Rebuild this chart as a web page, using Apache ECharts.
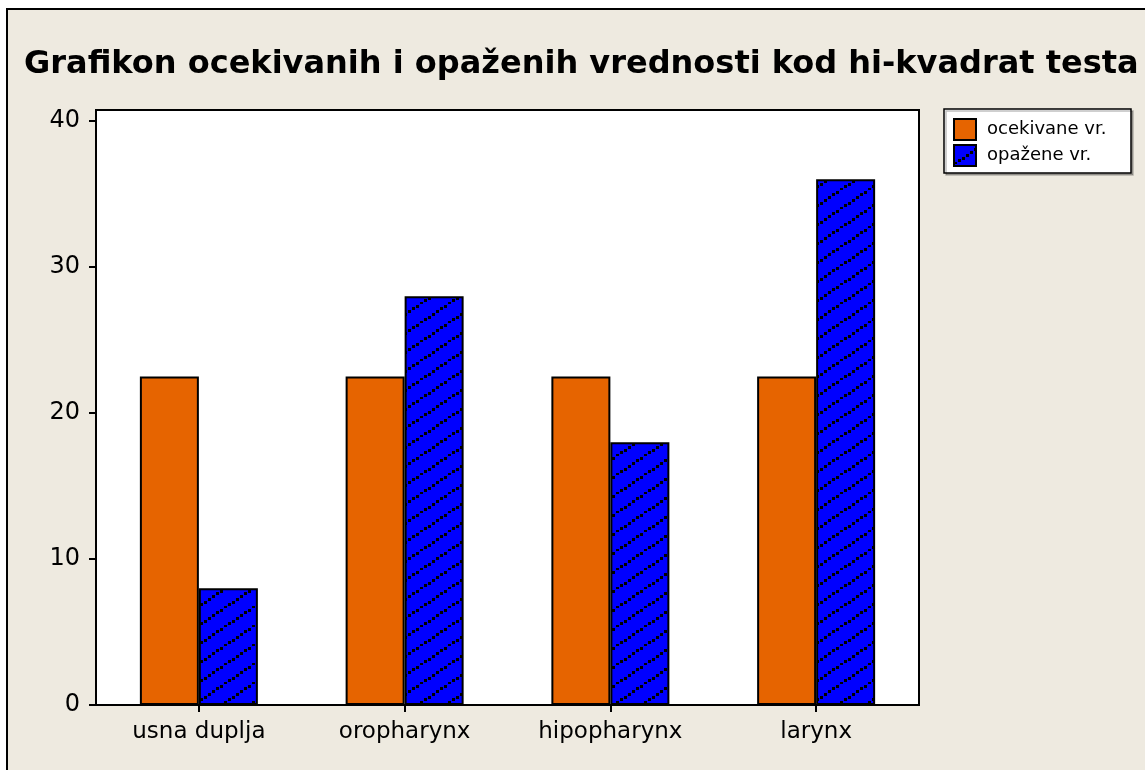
<!DOCTYPE html>
<html>
<head>
<meta charset="utf-8">
<title>Grafikon ocekivanih i opaženih vrednosti</title>
<script src="https://cdn.jsdelivr.net/npm/echarts@6/dist/echarts.min.js"></script>
<style>
  html, body { margin: 0; padding: 0; background: #fff; }
  #chart { width: 1145px; height: 770px; }
</style>
</head>
<body>
<div id="chart"></div>
<script>
// Categories and values
const categories = ['usna duplja', 'oropharynx', 'hipopharynx', 'larynx'];
const expectedValues = [22.5, 22.5, 22.5, 22.5];
const observedValues = [8, 28, 18, 36];
const yTicks = [0, 10, 20, 30, 40];
const seriesNames = ['ocekivane vr.', 'opažene vr.'];
const titleText = 'Grafikon ocekivanih i opaženih vrednosti kod hi-kvadrat testa';

// Blue fill with dotted diagonal hatching
function makeHatch() {
  const w = 28, h = 19;
  const c = document.createElement('canvas');
  c.width = w; c.height = h;
  const g = c.getContext('2d');
  g.fillStyle = '#0000ff';
  g.fillRect(0, 0, w, h);
  g.fillStyle = '#000';
  for (let x = 0; x < w; x += 4) {
    const y = h - x * h / w;
    g.fillRect(Math.round(x), Math.round(y) - 2, 3, 3);
  }
  return c;
}
const hatch = makeHatch();

const chart = echarts.init(document.getElementById('chart'), null, { renderer: 'canvas' });

const option = {
  backgroundColor: '#ffffff',
  animation: false,
  title: {
    text: titleText,
    left: 19,
    top: 44,
    textStyle: {
      fontFamily: 'DejaVu Sans',
      fontWeight: 'bold',
      fontSize: 32,
      color: '#000'
    }
  },
  graphic: [
    {
      type: 'rect',
      z: -10,
      shape: { x: 7, y: 9, width: 1200, height: 800 },
      style: { fill: '#EEEAE0', stroke: '#000', lineWidth: 2 }
    },
    {
      type: 'rect',
      z: 1,
      shape: { x: 944, y: 109, width: 187, height: 64 },
      style: { fill: '#fff', stroke: '#000', lineWidth: 1.5, shadowColor: 'rgba(0,0,0,0.25)', shadowOffsetX: 2, shadowOffsetY: 2 }
    }
  ],
  legend: {
    orient: 'vertical',
    left: 953,
    top: 118,
    padding: 0,
    itemWidth: 22,
    itemHeight: 21,
    itemGap: 3,
    icon: 'rect',
    textStyle: { fontFamily: 'DejaVu Sans', fontSize: 18, color: '#000', padding: [0, 0, 0, 6] },
    data: seriesNames
  },
  grid: {
    left: 96,
    top: 110,
    width: 823,
    height: 595,
    show: true,
    backgroundColor: '#ffffff',
    borderColor: '#000',
    borderWidth: 2,
    containLabel: false
  },
  xAxis: {
    type: 'category',
    data: categories,
    axisLine: { show: false },
    axisTick: { show: true, alignWithLabel: true, length: 7, lineStyle: { color: '#000', width: 2 } },
    axisLabel: { fontFamily: 'DejaVu Sans', fontSize: 23, color: '#000', margin: 16 },
    splitLine: { show: false }
  },
  yAxis: {
    type: 'value',
    min: 0,
    max: 40.75,
    axisLine: { show: false },
    axisTick: { show: true, length: 7, customValues: yTicks, lineStyle: { color: '#000', width: 2 } },
    axisLabel: { fontFamily: 'DejaVu Sans', fontSize: 24, color: '#000', margin: 16, customValues: yTicks },
    splitLine: { show: false }
  },
  series: [
    {
      name: seriesNames[0],
      type: 'bar',
      data: expectedValues,
      barWidth: 59,
      barGap: '0%',
      itemStyle: { color: '#E66400', borderColor: '#000', borderWidth: 2 }
    },
    {
      name: seriesNames[1],
      type: 'bar',
      data: observedValues,
      barWidth: 59,
      barGap: '0%',
      itemStyle: { color: { image: hatch, repeat: 'repeat' }, borderColor: '#000', borderWidth: 2 }
    }
  ]
};

chart.setOption(option);
</script>
</body>
</html>
